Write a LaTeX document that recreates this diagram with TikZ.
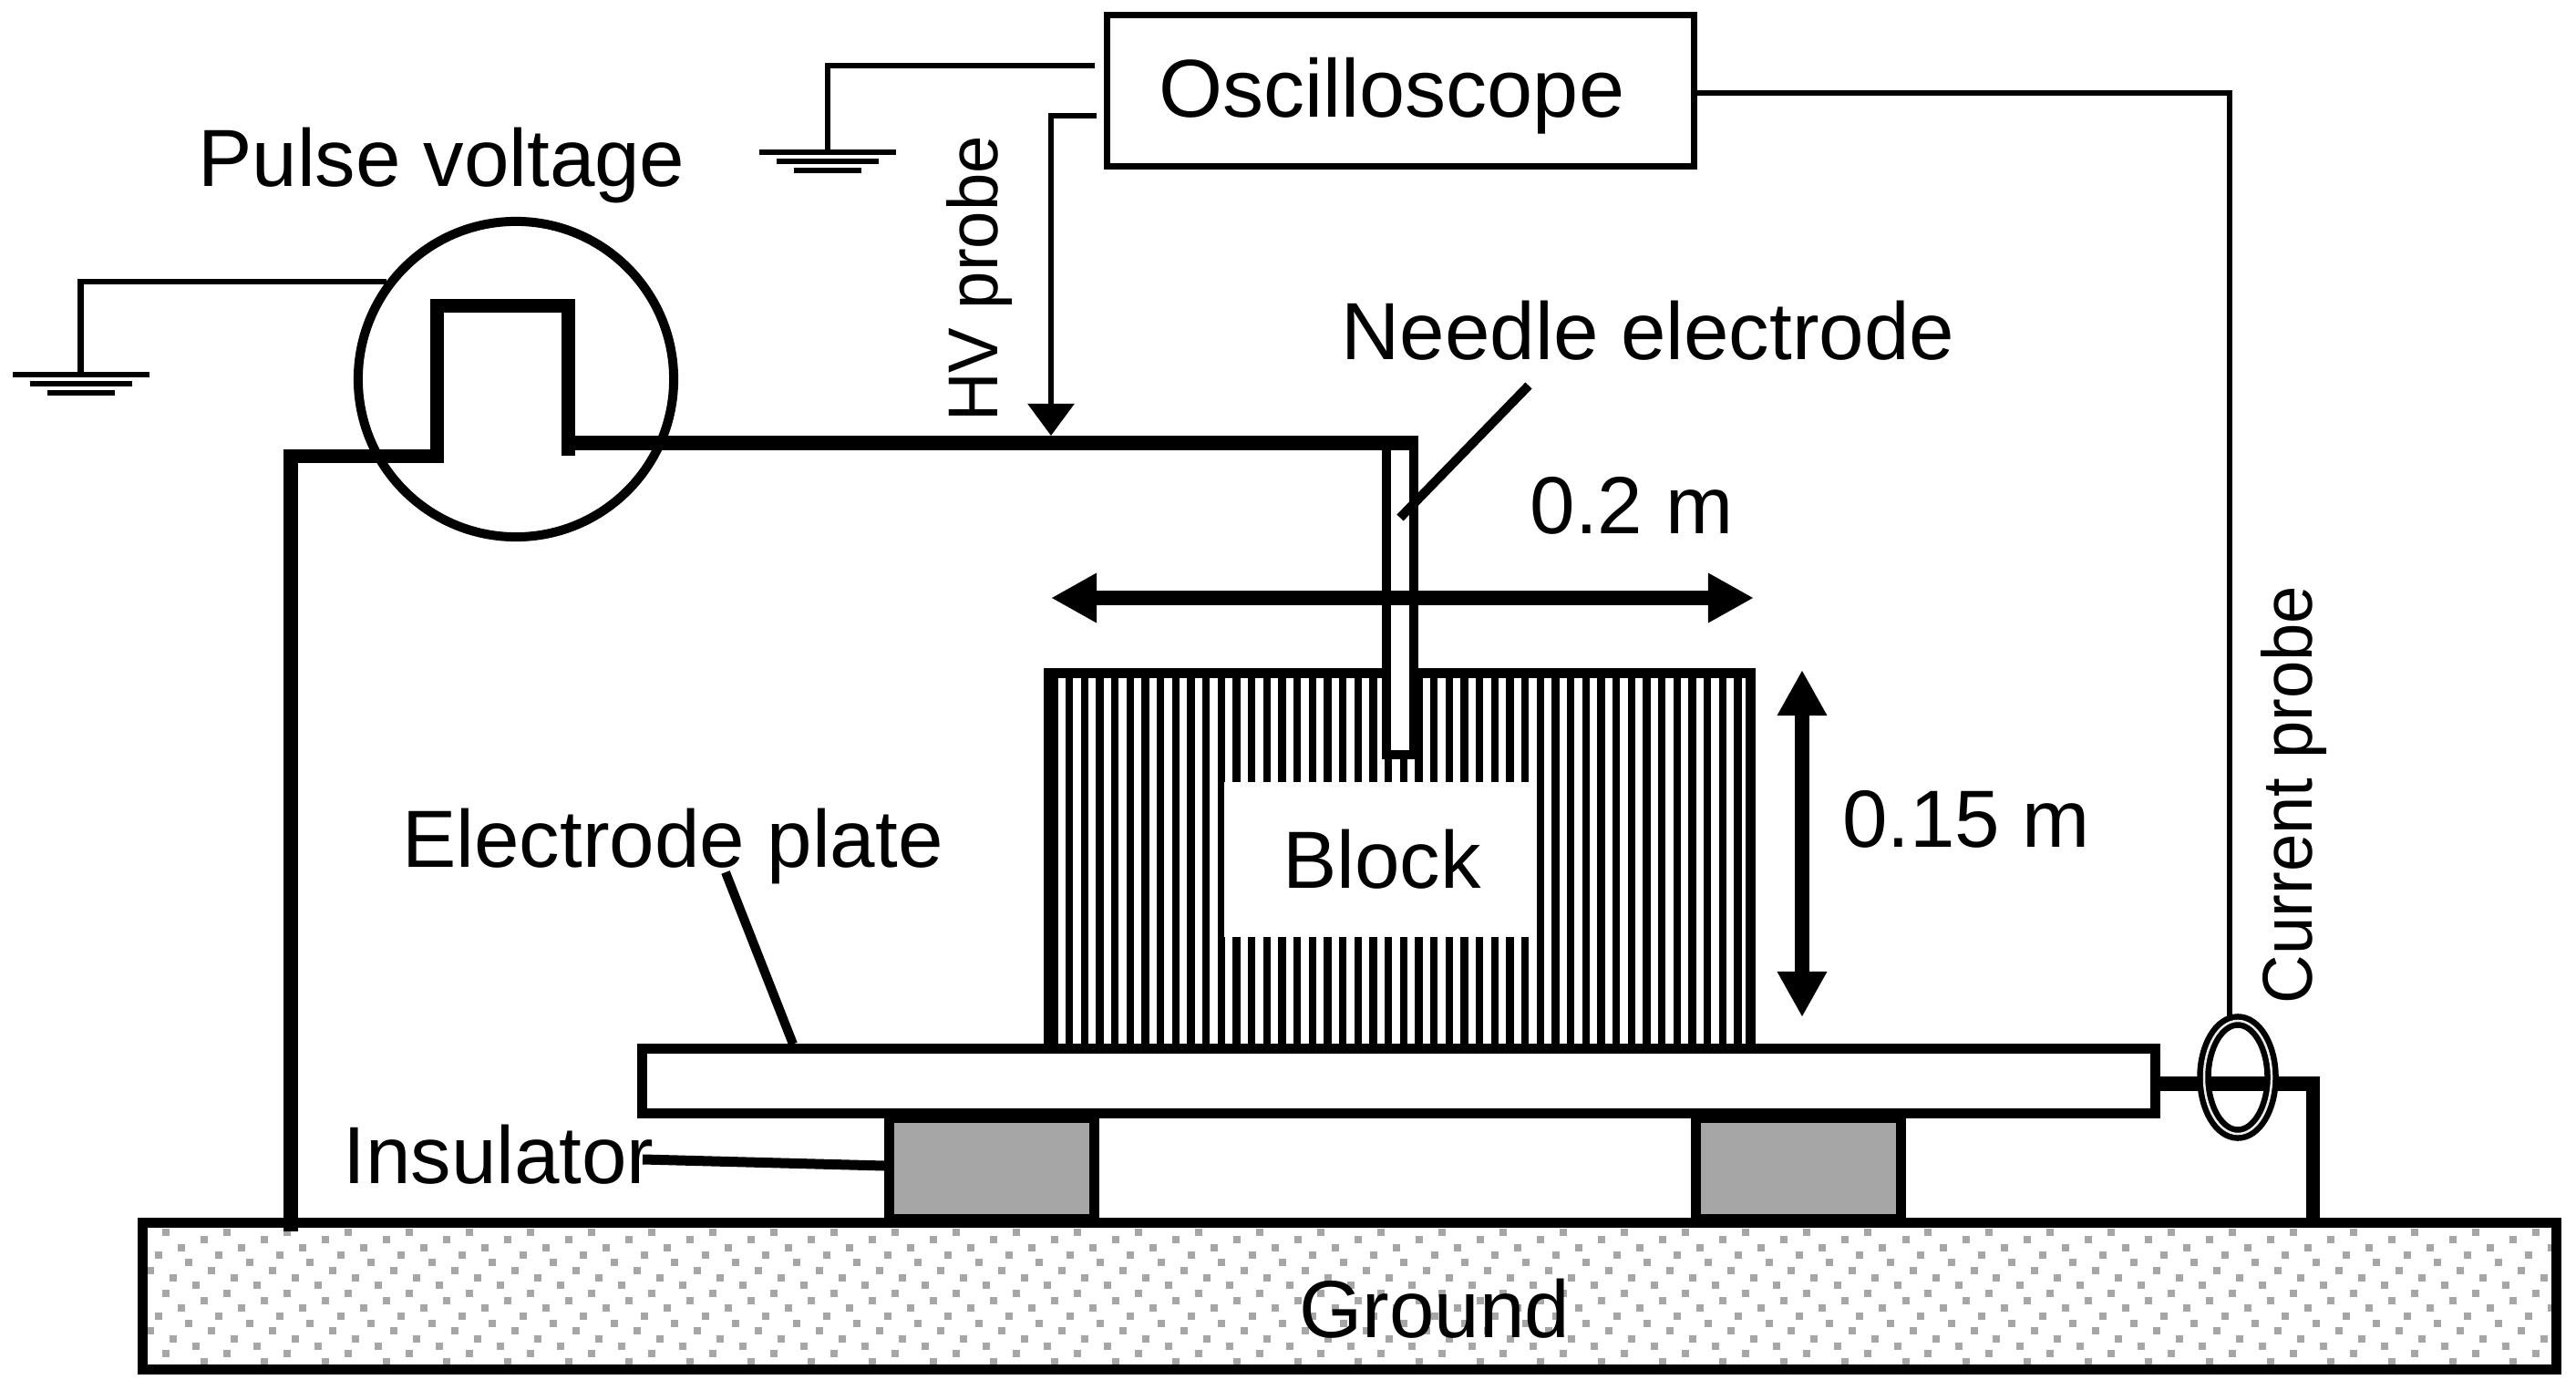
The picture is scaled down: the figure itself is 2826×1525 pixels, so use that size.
\documentclass[tikz,border=0pt]{standalone}
\usepackage{fontspec}
\setmainfont{Liberation Sans}
\usetikzlibrary{arrows.meta,shapes.geometric,positioning}
\definecolor{insgray}{HTML}{A6A6A6}

\begin{document}
\begin{tikzpicture}
[x=0.01cm,y=-0.01cm,font=\fontsize{25.3}{30}\selectfont,
      lab/.style={inner sep=0pt,anchor=base},
      sidelab/.style={inner sep=0pt,anchor=base,rotate=90,font=\fontsize{22}{26}\selectfont},
      box/.style={draw,line width=0.11cm,inner sep=0pt,fill=white},
      inslt/.style={box,fill=insgray,minimum width=2.25cm,minimum height=1.10cm},
      signal/.style={line width=0.06cm},
      power/.style={line width=0.15cm},
      leader/.style={line width=0.10cm},
      span/.style={line width=0.16cm,{Triangle[length=5mm,width=5.1mm]}-{Triangle[length=5mm,width=5.1mm]}},
      earthmark/.pic={\draw[line width=0.06cm] (-75,0)--(75,0) (-56,10)--(56,10) (-37,20)--(37,20);}]
 \useasboundingbox (0,0) rectangle (2826,1525);
 \begin{scope}
  \clip (157,1342) rectangle (2804,1502);
  \foreach \col [count=\r from 0] in {5,2,7,4,0,3,6,1}
   \foreach \j in {0,1,2}
    \foreach \k in {0,...,40}
     \fill[insgray] ({136.4+\col*8.33+66.67*\k},{1348+(\r+8*\j)*8.33}) rectangle ++(8,8);
 \end{scope}
 \node[box,fill=none,minimum width=26.47cm,minimum height=1.60cm] (ground) at (1480.5,1422) {};
 \node[lab] (groundtext) at (1574,1467) {Ground};

 \node[box,fill=none,minimum width=7.70cm,minimum height=4.125cm] (block) at (1535.5,944.75) {};
 \foreach \k in {-1,...,44}
  \fill ({1169+16.67*\k},738) rectangle ++(8.3,412);
 \node[fill=white,inner sep=0pt,minimum width=3.41cm,minimum height=1.70cm] (window) at (1514,943) {};
 \node[lab] (blocktext) at (1516,975) {Block};

 \node[inslt] (insleft) at (1088,1282) {};
 \node[inslt] (insright) at (1973,1282) {};
 \node[box,minimum width=16.59cm,minimum height=0.70cm] (plate) at (1534.5,1186) {};
 \node[lab] (platetext) at (738,952) {Electrode plate};
 \node[lab] (instext) at (547,1298) {Insulator};
 \coordinate (platemark) at (796,957);
 \coordinate (insmark) at (705,1272);
 \draw[leader] (platemark) -- (plate.north -| 870,0);
 \draw[line width=0.11cm] (insmark) -- (insleft.west |- 0,1279);

 \node[box,line width=0.10cm,minimum width=0.30cm,minimum height=3.425cm] (needle) at (1535.5,657) {};
 \node[lab] (needletext) at (1808,395) {Needle electrode};
 \coordinate (needlemark) at (1677,423);
 \coordinate (needletip) at (1536,568);
 \draw[leader] (needlemark) -- (needletip);

 \node[draw,line width=0.10cm,circle,inner sep=0pt,minimum size=3.46cm] (source) at (566,416) {};
 \node[lab] (sourcetext) at (484.5,205) {Pulse voltage};
 \coordinate (gndleft) at (319,1351);
 \coordinate (bendleft) at (319,501);
 \coordinate (riseleft) at (479,501);
 \coordinate (topleft) at (479,336);
 \coordinate (topright) at (623,336);
 \coordinate (riseright) at (623,500);
 \coordinate (feedstart) at (623,486);
 \coordinate (feedend) at (1556,486);
 \draw[power] (gndleft) -- (bendleft) -- (riseleft) -- (topleft) -- (topright) -- (riseright);
 \draw[line width=0.16cm] (feedstart) -- (feedend);

 \pic (earthsource) at (88.5,411) {earthmark};
 \coordinate (earthleft) at (88.5,411);
 \draw[signal] (source.143) -| (earthleft);

 \node[draw,line width=0.07cm,inner sep=0pt,minimum width=6.435cm,minimum height=1.65cm] (osc) at (1536.8,99.5) {};
 \node[lab,font=\fontsize{25.6}{30}\selectfont] (osctext) at (1527,129) {Oscilloscope};
 \pic (earthosc) at (907.5,167) {earthmark};
 \coordinate (earthtop) at (907.5,167);
 \coordinate (oscgnd) at (1201,72);
 \coordinate (oscprobe) at (1203,127);
 \coordinate (hvcorner) at (1153,127);
 \coordinate (hvtip) at (1153,478);
 \draw[signal] (oscgnd) -| (earthtop);
 \draw[signal,-{Triangle[length=3.5mm,width=5mm]}] (oscprobe) -- (hvcorner) -- (hvtip);
 \node[sidelab] (hvtext) at (1094,306) {\scalebox{.96}[1]{HV probe}};

 \coordinate (tapplate) at (2364,1189);
 \coordinate (tapbend) at (2537,1189);
 \coordinate (tapground) at (2537,1340);
 \draw[power] (tapplate) -- (tapbend) -- (tapground);
 \node[draw,double=gray!15,line width=0.065cm,double distance=0.025cm,ellipse,inner sep=0pt,
      minimum width=0.74cm,minimum height=1.24cm] (probe) at (2455,1182) {};
 \coordinate (oscout) at (1861,102);
 \coordinate (probecorner) at (2446,102);
 \coordinate (probetop) at (2446,1116);
 \draw[signal] (oscout) -- (probecorner) -- (probetop);
 \node[sidelab] (currenttext) at (2536.5,872) {\scalebox{.96}[1]{Current probe}};

 \coordinate (wideleft) at (1153,656);
 \coordinate (wideright) at (1924,656);
 \coordinate (tallup) at (1977,735);
 \coordinate (talldown) at (1977,1116);
 \draw[span] (wideleft) -- (wideright);
 \draw[span] (tallup) -- (talldown);
 \node[lab] (widetext) at (1790,586) {0.2 m};
 \node[lab] (talltext) at (2157,930) {0.15 m};
\end{tikzpicture}
\end{document}
